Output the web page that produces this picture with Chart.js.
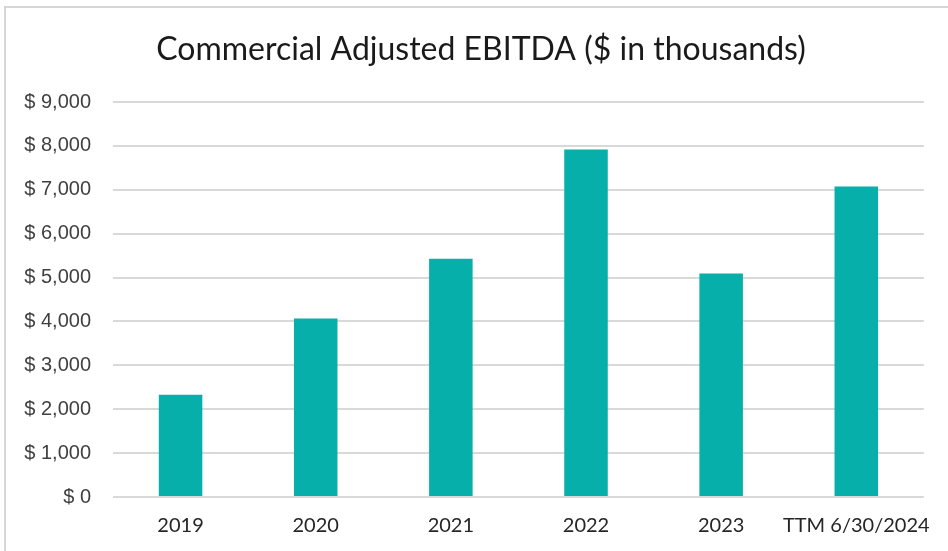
<!DOCTYPE html>
<html>
<head>
<meta charset="utf-8">
<script src="https://cdn.jsdelivr.net/npm/chart.js@4.4.1/dist/chart.umd.min.js"></script>
<style>
  html, body { margin: 0; padding: 0; background: #ffffff; }
  #wrap { position: relative; width: 948px; height: 551px; }
  canvas { display: block; }
</style>
</head>
<body>
<div id="wrap"><canvas id="c" width="948" height="551"></canvas></div>
<script>
const categories = ["2019", "2020", "2021", "2022", "2023", "TTM 6/30/2024"];
const ebitdaValues = [2330, 4065, 5430, 7920, 5090, 7075];
const titleText = "Commercial Adjusted EBITDA ($ in thousands)";
const yTickMin = 0;
const yTickMax = 9000;
const yTickStep = 1000;

const frameAndTitle = {
  id: "frameAndTitle",
  beforeDraw(chart) {
    const ctx = chart.ctx;
    ctx.save();
    ctx.fillStyle = "#ffffff";
    ctx.fillRect(0, 0, chart.width, chart.height);
    ctx.strokeStyle = "#d6d6d6";
    ctx.lineWidth = 2;
    ctx.strokeRect(5, 7, chart.width + 50, chart.height + 50);
    ctx.restore();
  },
  afterDraw(chart) {
    const ctx = chart.ctx;
    ctx.save();
    ctx.fillStyle = "#1a1a1a";
    ctx.font = "32px Lato";
    ctx.textAlign = "center";
    ctx.textBaseline = "middle";
    ctx.fillText(titleText, 481, 50);
    ctx.restore();
  }
};

new Chart(document.getElementById("c"), {
  type: "bar",
  data: {
    labels: categories,
    datasets: [{
      data: ebitdaValues,
      backgroundColor: "#06AFAA",
      borderWidth: 0,
      barPercentage: 0.322,
      categoryPercentage: 1.0
    }]
  },
  options: {
    responsive: false,
    animation: false,
    devicePixelRatio: 1,
    layout: { padding: { left: 0, right: 17, top: 102, bottom: 0 } },
    plugins: {
      legend: { display: false },
      tooltip: { enabled: false },
      title: { display: false }
    },
    scales: {
      x: {
        grid: { display: false, drawTicks: false },
        border: { display: false },
        ticks: {
          color: "#262626",
          font: { family: "Lato", size: 20 },
          padding: 17,
          maxRotation: 0,
          autoSkip: false
        },
        afterFit(scale) { scale.height = 54; }
      },
      y: {
        min: yTickMin,
        max: yTickMax,
        grid: { color: "#d9d9d9", lineWidth: 2, drawTicks: false },
        border: { display: false },
        ticks: {
          stepSize: yTickStep,
          color: "#404040",
          font: { family: "Liberation Sans", size: 20 },
          padding: 22,
          callback: (v) => "$ " + Number(v).toLocaleString("en-US")
        },
        afterFit(scale) { scale.width = 113; }
      }
    }
  },
  plugins: [frameAndTitle]
});
</script>
</body>
</html>
